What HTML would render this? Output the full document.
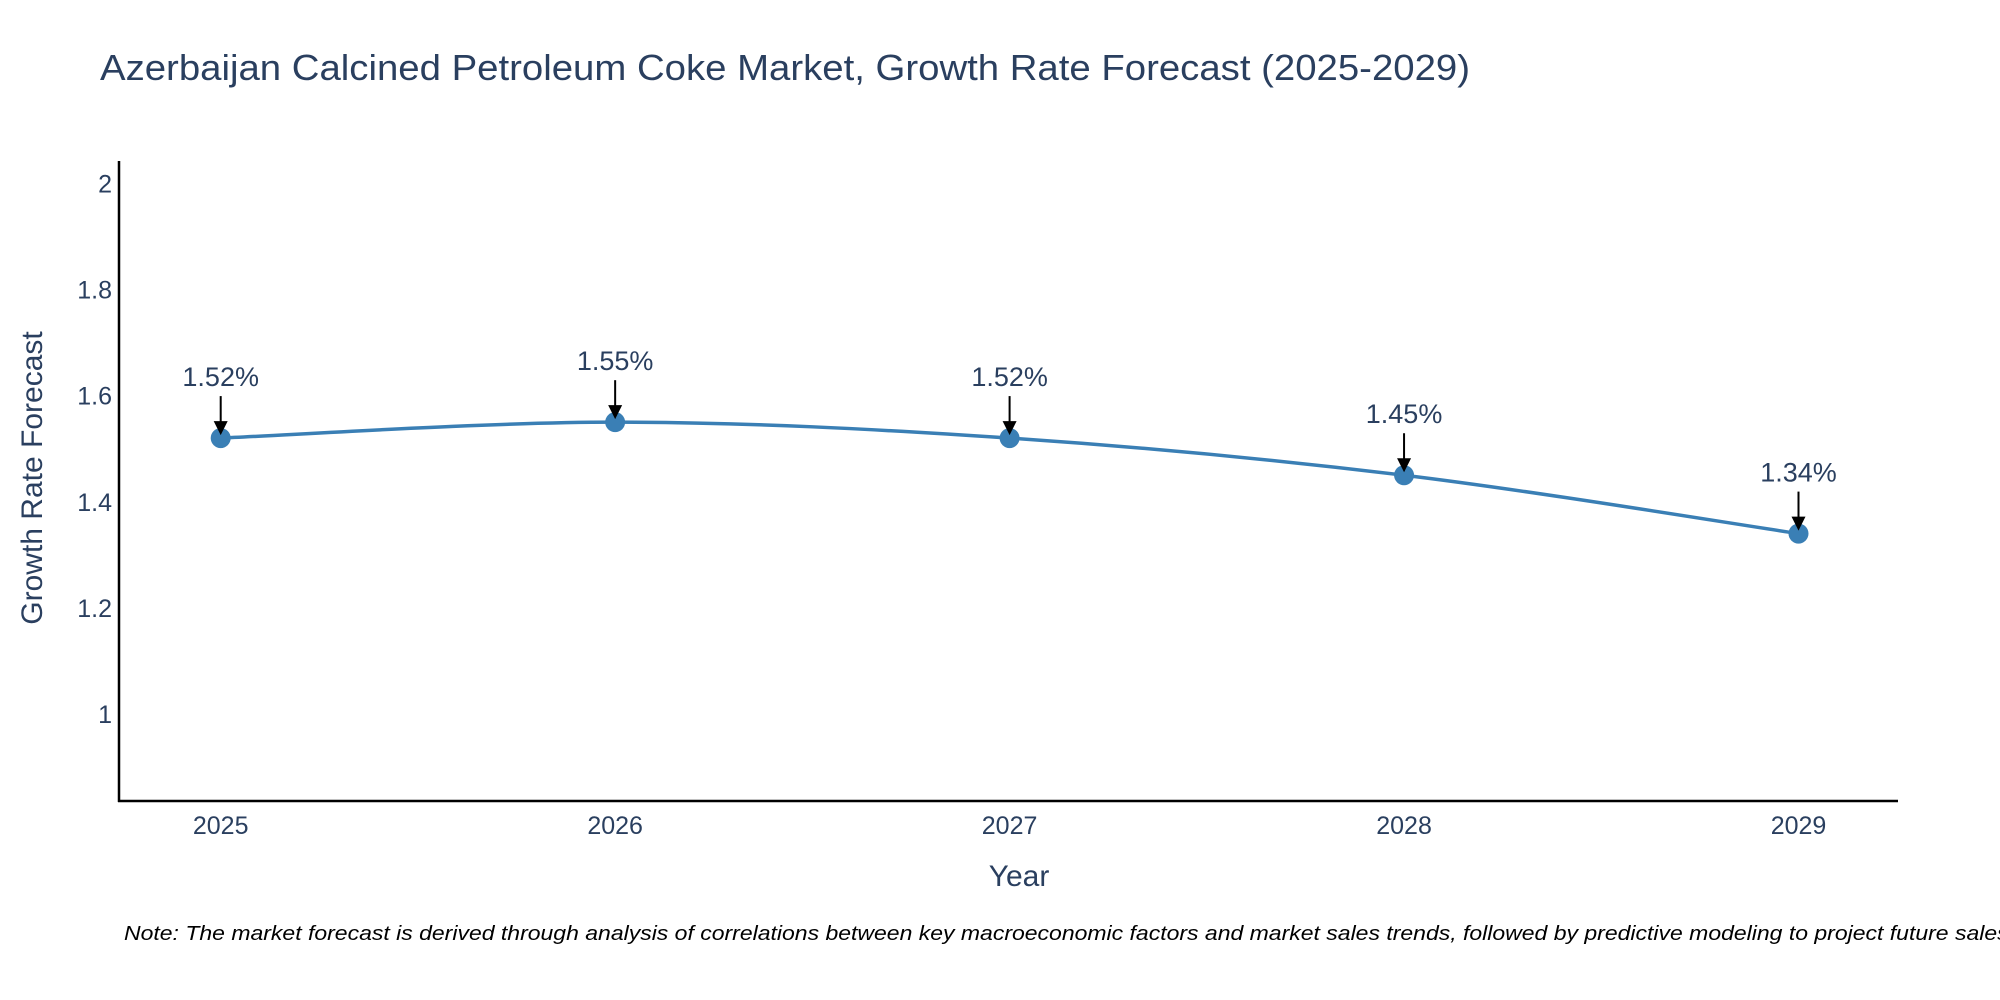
<!DOCTYPE html>
<html><head><meta charset="utf-8">
<style>
body{margin:0;background:#fff;overflow:hidden;}
svg{display:block;font-family:"Liberation Sans",sans-serif;}
</style></head>
<body>
<svg id="chart" width="2000" height="1000" viewBox="0 0 2000 1000">
<rect width="2000" height="1000" fill="#fff"/>
<text x="100" y="80" font-size="36" fill="#2a3f5f" textLength="1370" lengthAdjust="spacingAndGlyphs">Azerbaijan Calcined Petroleum Coke Market, Growth Rate Forecast (2025-2029)</text>
<g id="yticks"></g>
<g id="xticks"></g>
<line x1="119" y1="161" x2="119" y2="802" stroke="#000" stroke-width="2.5"/>
<line x1="118" y1="801" x2="1898" y2="801" stroke="#000" stroke-width="2.5"/>
<path id="line" fill="none" stroke="#3a7fb5" stroke-width="3.5"/>
<g id="points"></g>
<g id="annots"></g>
<text x="1019" y="886" font-size="30" fill="#2a3f5f" text-anchor="middle">Year</text>
<text transform="translate(34,478) rotate(-90)" font-size="30" fill="#2a3f5f" text-anchor="middle" dominant-baseline="middle">Growth Rate Forecast</text>
<text x="124" y="940" font-size="20" font-style="italic" fill="#000" textLength="1891" lengthAdjust="spacingAndGlyphs">Note: The market forecast is derived through analysis of correlations between key macroeconomic factors and market sales trends, followed by predictive modeling to project future sales.</text>
</svg>
<script>
const years = [2025, 2026, 2027, 2028, 2029];
const values = [1.52, 1.55, 1.52, 1.45, 1.34];
const labels = ["1.52%", "1.55%", "1.52%", "1.45%", "1.34%"];
const yTicks = [1, 1.2, 1.4, 1.6, 1.8, 2];
const yTickLabels = ["1", "1.2", "1.4", "1.6", "1.8", "2"];

const NS = "http://www.w3.org/2000/svg";
function xs(v){ return 220.7 + (v - 2025) * 394.45; }
function ys(v){ return 714 - (v - 1) * 530.6; }
function mk(tag, attrs, parent){
  const e = document.createElementNS(NS, tag);
  for (const k in attrs) e.setAttribute(k, attrs[k]);
  parent.appendChild(e); return e;
}
const yg = document.getElementById('yticks');
yTicks.forEach((t, i) => {
  const el = mk('text', {x: 112, y: ys(t) + 9, 'font-size': 25, fill: '#2a3f5f', 'text-anchor': 'end'}, yg);
  
  
  el.textContent = yTickLabels[i];
});
const xg = document.getElementById('xticks');
years.forEach(y => {
  const el = mk('text', {x: xs(y), y: 834, 'font-size': 25, fill: '#2a3f5f', 'text-anchor': 'middle'}, xg);
  
  
  el.textContent = y;
});
const pts = years.map((y, i) => [xs(y), ys(values[i])]);
let d = 'M' + pts[0][0] + ',' + pts[0][1];
for (let i = 0; i < pts.length - 1; i++) {
  const p0 = pts[Math.max(0, i - 1)], p1 = pts[i], p2 = pts[i + 1], p3 = pts[Math.min(pts.length - 1, i + 2)];
  const t = 1 / 3;
  const c1 = [p1[0] + (p2[0] - p0[0]) * t / 2, p1[1] + (p2[1] - p0[1]) * t / 2];
  const c2 = [p2[0] - (p3[0] - p1[0]) * t / 2, p2[1] - (p3[1] - p1[1]) * t / 2];
  d += ' C' + c1[0] + ',' + c1[1] + ' ' + c2[0] + ',' + c2[1] + ' ' + p2[0] + ',' + p2[1];
}
document.getElementById('line').setAttribute('d', d);
const pg = document.getElementById('points');
const ag = document.getElementById('annots');
pts.forEach((p, i) => {
  const c = mk('circle', {cx: p[0], cy: p[1], r: 10, fill: '#3a7fb5'}, pg);
  
  
  const l = mk('line', {x1: p[0], y1: p[1] - 42, x2: p[0], y2: p[1] - 14, stroke: '#000', 'stroke-width': 2}, ag);
  
  
  const h = mk('polygon', {points: (p[0]-7)+','+(p[1]-17)+' '+(p[0]+7)+','+(p[1]-17)+' '+p[0]+','+(p[1]-3)}, ag);
  
  
  const tx = mk('text', {x: p[0], y: p[1] - 52, 'font-size': 27, fill: '#2a3f5f', 'text-anchor': 'middle'}, ag);
  
  
  tx.textContent = labels[i];
});
</script>
</body></html>
